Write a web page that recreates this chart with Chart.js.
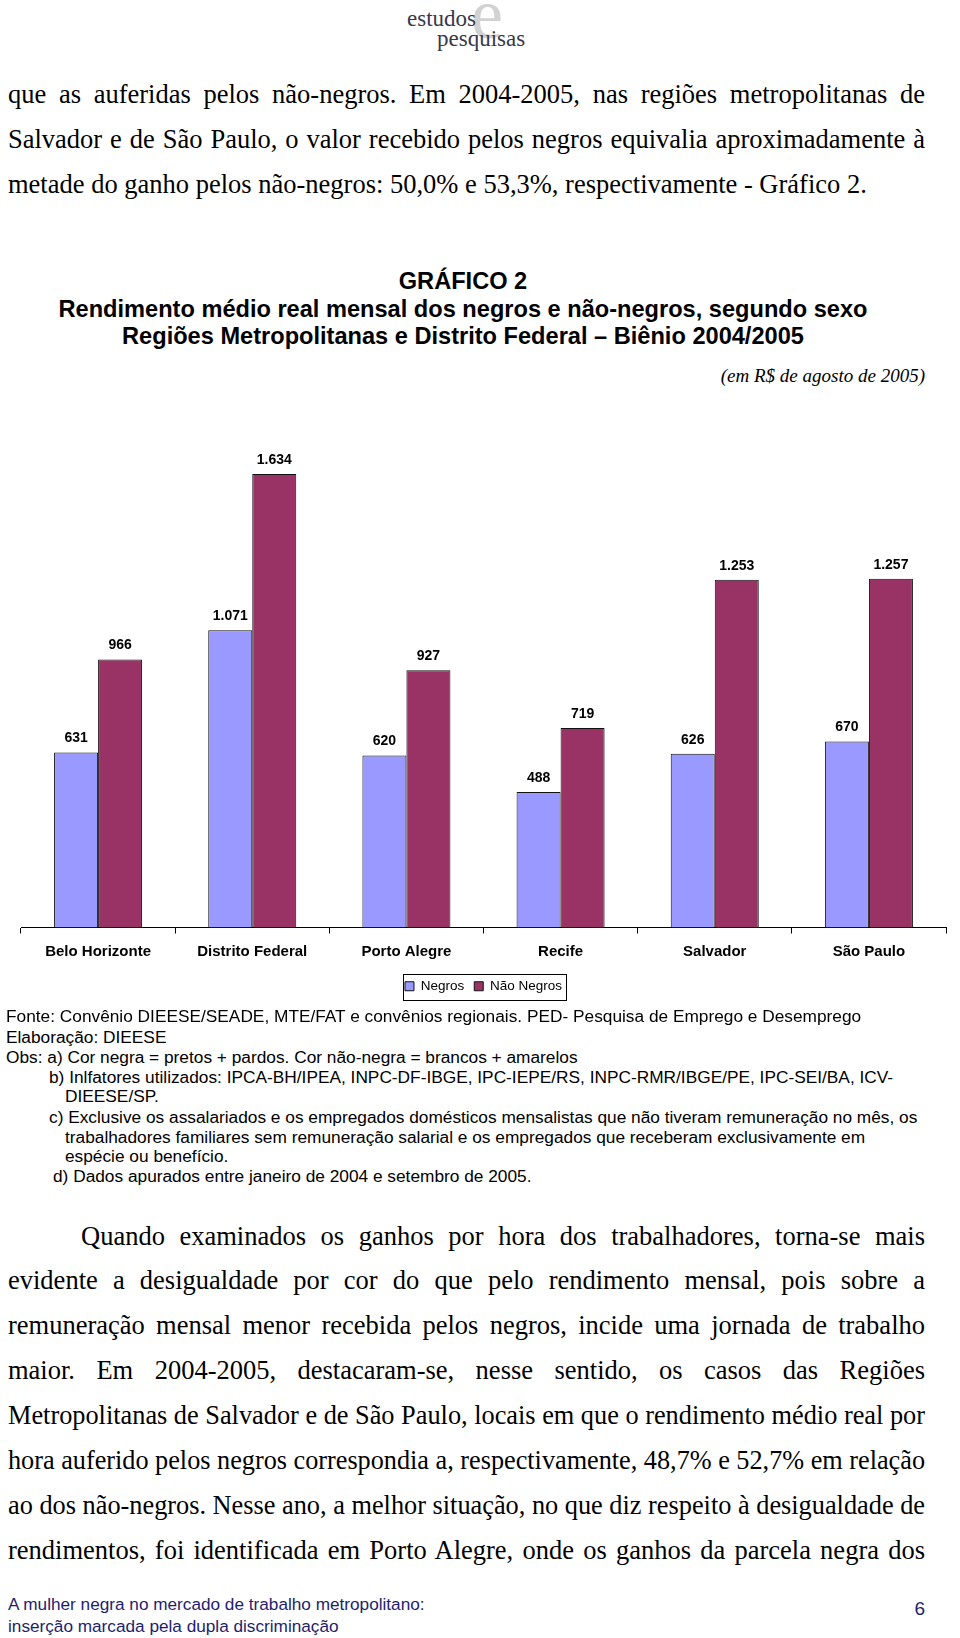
<!DOCTYPE html>
<html lang="pt-BR">
<head>
<meta charset="utf-8">
<title>Gráfico 2</title>
<script src="https://cdn.jsdelivr.net/npm/chart.js@4.4.1/dist/chart.umd.min.js"></script>
<style>
  html, body { margin: 0; padding: 0; background: #fff; }
  body { width: 960px; height: 1638px; position: relative; overflow: hidden; }
  .abs { position: absolute; white-space: nowrap; }
  .serif { font-family: 'Liberation Serif', 'Times New Roman', serif; color: #000; }
  .sans { font-family: 'Liberation Sans', Arial, sans-serif; color: #000; }
  .body-line { position: absolute; left: 8px; width: 917px; height: 45px; line-height: 45px; font-size: 26.5px; white-space: nowrap; }
  .just { text-align: justify; text-align-last: justify; }
  .title { position: absolute; left: 0; width: 926px; text-align: center; font-weight: bold; font-size: 23.6px; line-height: 27.5px; }
  .note { position: absolute; font-size: 17.3px; line-height: 20px; height: 20px; white-space: nowrap; }
  .foot { color: #1e1e6e; }
  #chartBox { position: absolute; left: 0; top: 412px; width: 960px; height: 600px; }
</style>
</head>
<body>
  <!-- logo -->
  <div class="abs serif" style="left:471px; top:-22px; font-size:72px; line-height:72px; color:#d2d2d2;">e</div>
  <div class="abs serif" style="left:407px; top:6px; font-size:23px; line-height:26px; color:#38384a;">estudos</div>
  <div class="abs serif" style="left:437px; top:26px; font-size:23px; line-height:26px; color:#38384a;">pesquisas</div>

  <!-- paragraph 1 -->
  <div class="body-line serif just" style="top:72px;">que as auferidas pelos não-negros. Em 2004-2005, nas regiões metropolitanas de</div>
  <div class="body-line serif just" style="top:117px;">Salvador e de São Paulo, o valor recebido pelos negros equivalia aproximadamente à</div>
  <div class="body-line serif" style="top:162px;">metade do ganho pelos não-negros: 50,0% e 53,3%, respectivamente - Gráfico 2.</div>

  <!-- chart title -->
  <div class="title sans" style="top:268px;">GRÁFICO 2</div>
  <div class="title sans" style="top:295.5px;">Rendimento médio real mensal dos negros e não-negros, segundo sexo</div>
  <div class="title sans" style="top:323px;">Regiões Metropolitanas e Distrito Federal – Biênio 2004/2005</div>
  <div class="abs serif" style="right:35px; top:364px; font-size:19px; line-height:24px; font-style:italic;">(em R$ de agosto de 2005)</div>

  <div id="chartBox"><canvas id="chart" width="960" height="600"></canvas></div>

  <!-- notes -->
  <div class="note sans" style="left:6px; top:1006px;">Fonte: Convênio DIEESE/SEADE, MTE/FAT e convênios regionais. PED- Pesquisa de Emprego e Desemprego</div>
  <div class="note sans" style="left:6px; top:1027px;">Elaboração: DIEESE</div>
  <div class="note sans" style="left:6px; top:1047px;">Obs: a) Cor negra = pretos + pardos. Cor não-negra = brancos + amarelos</div>
  <div class="note sans" style="left:49px; top:1067px;">b) Inlfatores utilizados: IPCA-BH/IPEA, INPC-DF-IBGE, IPC-IEPE/RS, INPC-RMR/IBGE/PE, IPC-SEI/BA, ICV-</div>
  <div class="note sans" style="left:65px; top:1086px;">DIEESE/SP.</div>
  <div class="note sans" style="left:49px; top:1107px;">c) Exclusive os assalariados e os empregados domésticos mensalistas que não tiveram remuneração no mês, os</div>
  <div class="note sans" style="left:65px; top:1127px;">trabalhadores familiares sem remuneração salarial e os empregados que receberam exclusivamente em</div>
  <div class="note sans" style="left:65px; top:1146px;">espécie ou benefício.</div>
  <div class="note sans" style="left:53px; top:1166px;">d) Dados apurados entre janeiro de 2004 e setembro de 2005.</div>

  <!-- paragraph 2 -->
  <div class="body-line serif just" style="top:1213.5px; left:81px; width:844px;">Quando examinados os ganhos por hora dos trabalhadores, torna-se mais</div>
  <div class="body-line serif just" style="top:1258.4px;">evidente a desigualdade por cor do que pelo rendimento mensal, pois sobre a</div>
  <div class="body-line serif just" style="top:1303.3px;">remuneração mensal menor recebida pelos negros, incide uma jornada de trabalho</div>
  <div class="body-line serif just" style="top:1348.2px;">maior. Em 2004-2005, destacaram-se, nesse sentido, os casos das Regiões</div>
  <div class="body-line serif just" style="top:1393.1px;">Metropolitanas de Salvador e de São Paulo, locais em que o rendimento médio real por</div>
  <div class="body-line serif just" style="top:1438px;">hora auferido pelos negros correspondia a, respectivamente, 48,7% e 52,7% em relação</div>
  <div class="body-line serif just" style="top:1482.9px;">ao dos não-negros. Nesse ano, a melhor situação, no que diz respeito à desigualdade de</div>
  <div class="body-line serif just" style="top:1527.8px;">rendimentos, foi identificada em Porto Alegre, onde os ganhos da parcela negra dos</div>

  <!-- footer -->
  <div class="abs sans foot" style="left:8px; top:1593px; font-size:17.2px; line-height:22px;">A mulher negra no mercado de trabalho metropolitano:</div>
  <div class="abs sans foot" style="left:8px; top:1615px; font-size:17.2px; line-height:22px;">inserção marcada pela dupla discriminação</div>
  <div class="abs sans foot" style="right:35px; top:1597px; font-size:19px; line-height:24px;">6</div>

<script>
// ---- data ----
const categories = ['Belo Horizonte', 'Distrito Federal', 'Porto Alegre', 'Recife', 'Salvador', 'São Paulo'];
const seriesNames = ['Negros', 'Não Negros'];
const negros = [631, 1071, 620, 488, 626, 670];
const naoNegros = [966, 1634, 927, 719, 1253, 1257];

// fit over-long body lines horizontally (layout only)
document.querySelectorAll('.body-line').forEach(d => {
  const W = d.offsetWidth;
  const probe = document.createElement('span');
  probe.textContent = d.textContent;
  probe.style.cssText = 'position:absolute;visibility:hidden;white-space:nowrap;';
  probe.style.font = getComputedStyle(d).font;
  document.body.appendChild(probe);
  const nat = probe.getBoundingClientRect().width;
  probe.remove();
  if (nat > W) {
    const s = W / nat;
    d.style.width = (W / s) + 'px';
    d.style.transformOrigin = '0 0';
    d.style.transform = 'scaleX(' + s + ')';
  }
});

function fmtBR(n) {
  return String(n).replace(/\B(?=(\d{3})+(?!\d))/g, '.');
}

const valueLabels = {
  id: 'valueLabels',
  afterDatasetsDraw(chart) {
    const ctx = chart.ctx;
    ctx.save();
    ctx.font = 'bold 14px "Liberation Sans", Arial, sans-serif';
    ctx.fillStyle = '#000';
    ctx.textAlign = 'center';
    ctx.textBaseline = 'middle';
    chart.data.datasets.forEach((ds, di) => {
      const meta = chart.getDatasetMeta(di);
      meta.data.forEach((el, i) => {
        ctx.fillText(fmtBR(ds.data[i]), el.x, el.y - 14);
      });
    });
    ctx.restore();
  }
};

const legendFrame = {
  id: 'legendFrame',
  afterDraw(chart) {
    const lg = chart.legend;
    if (!lg || !lg.legendHitBoxes || !lg.legendHitBoxes.length) return;
    const boxes = lg.legendHitBoxes;
    let l = Infinity, r = -Infinity, t = Infinity, b = -Infinity;
    boxes.forEach(h => {
      l = Math.min(l, h.left); r = Math.max(r, h.left + h.width);
      t = Math.min(t, h.top); b = Math.max(b, h.top + h.height);
    });
    const ctx = chart.ctx;
    ctx.save();
    ctx.strokeStyle = '#000';
    ctx.lineWidth = 1;
    ctx.strokeRect(Math.round(l - 2) + 0.5, Math.round(t - 6) + 0.5, Math.round(r - l + 6), Math.round(b - t + 12));
    ctx.restore();
  }
};

new Chart(document.getElementById('chart'), {
  type: 'bar',
  data: {
    labels: categories,
    datasets: [
      { label: seriesNames[0], data: negros, backgroundColor: '#9999FF', borderColor: '#111', borderWidth: 1, categoryPercentage: 0.571, barPercentage: 1.0 },
      { label: seriesNames[1], data: naoNegros, backgroundColor: '#993366', borderColor: '#111', borderWidth: 1, categoryPercentage: 0.571, barPercentage: 1.0 }
    ]
  },
  options: {
    responsive: false,
    animation: false,
    devicePixelRatio: 1,
    layout: { padding: { left: 21, right: 14, top: 16, bottom: 9 } },
    scales: {
      x: {
        grid: { display: true, drawOnChartArea: false, drawTicks: true, tickLength: 6, color: '#000', lineWidth: 1, offset: true },
        border: { display: true, color: '#000', width: 1 },
        ticks: { color: '#000', padding: 9, font: { family: '"Liberation Sans", Arial, sans-serif', size: 15, weight: 'bold' }, maxRotation: 0, autoSkip: false }
      },
      y: { display: false, min: 0, max: 1800 }
    },
    plugins: {
      legend: {
        position: 'bottom',
        labels: { color: '#000', boxWidth: 9, boxHeight: 9, padding: 10, font: { family: '"Liberation Sans", Arial, sans-serif', size: 13.5 } }
      },
      title: { display: false },
      tooltip: { enabled: false }
    }
  },
  plugins: [valueLabels, legendFrame]
});
</script>
</body>
</html>
